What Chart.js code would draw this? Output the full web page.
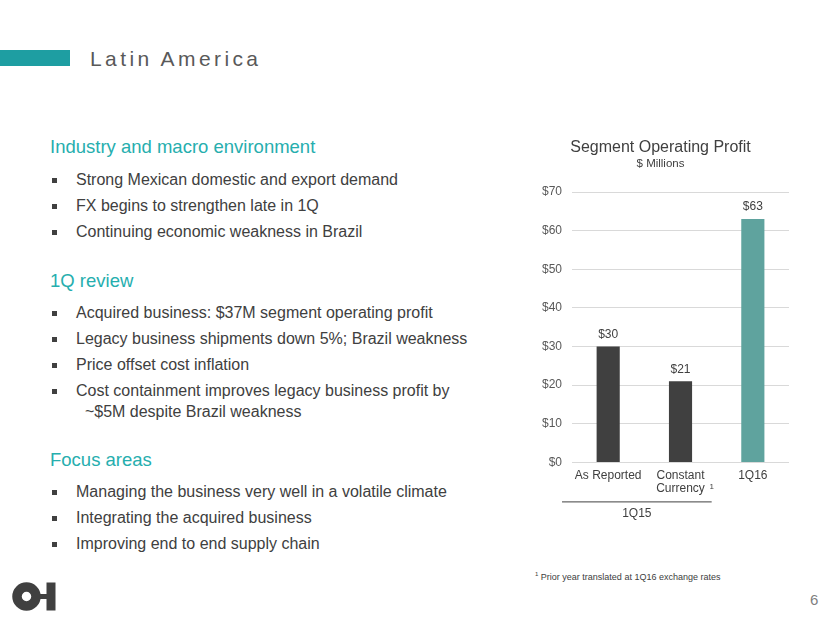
<!DOCTYPE html>
<html>
<head>
<meta charset="utf-8">
<script src="https://cdn.jsdelivr.net/npm/chart.js@4.4.1/dist/chart.umd.min.js"></script>
<style>
  body { margin: 0; background: #fff; font-family: "Liberation Sans", Arial, sans-serif; }
  #slide { position: relative; width: 830px; height: 623px; overflow: hidden; }
  .bar { position: absolute; left: 0; top: 50px; width: 70px; height: 16px; background: #1e9ea2; }
  .title { position: absolute; left: 90px; top: 47px; font-size: 21px; letter-spacing: 3.4px; color: #595959; }
  .head { position: absolute; left: 50px; font-size: 18.5px; color: #26aeae; }
  .item { position: absolute; left: 76px; font-size: 16px; color: #404040; }
  .item:before { content: ""; position: absolute; left: -24px; top: 7px; width: 5px; height: 5px; background: #404040; }
  .item.cont:before { display: none; }
  #chartBox { position: absolute; left: 515px; top: 132px; width: 300px; height: 400px; }
  .foot { position: absolute; left: 535px; top: 571px; font-size: 9px; color: #404040; }
  .page { position: absolute; left: 810px; top: 591px; font-size: 15px; color: #7f7f7f; }
</style>
</head>
<body>
<div id="slide">
  <div class="bar"></div>
  <div class="title">Latin America</div>

  <div class="head" style="top:136px">Industry and macro environment</div>
  <div class="item" style="top:171px">Strong Mexican domestic and export demand</div>
  <div class="item" style="top:197px">FX begins to strengthen late in 1Q</div>
  <div class="item" style="top:223px">Continuing economic weakness in Brazil</div>

  <div class="head" style="top:270px">1Q review</div>
  <div class="item" style="top:304px">Acquired business: $37M segment operating profit</div>
  <div class="item" style="top:330px">Legacy business shipments down 5%; Brazil weakness</div>
  <div class="item" style="top:356px">Price offset cost inflation</div>
  <div class="item" style="top:382px">Cost containment improves legacy business profit by</div>
  <div class="item cont" style="top:403px">&nbsp;&nbsp;~$5M despite Brazil weakness</div>

  <div class="head" style="top:449px">Focus areas</div>
  <div class="item" style="top:483px">Managing the business very well in a volatile climate</div>
  <div class="item" style="top:509px">Integrating the acquired business</div>
  <div class="item" style="top:535px">Improving end to end supply chain</div>

  <div id="chartBox"><canvas id="chart"></canvas></div>

  <div class="foot"><sup style="font-size:6px">1</sup> Prior year translated at 1Q16 exchange rates</div>
  <div class="page">6</div>

  <svg style="position:absolute;left:12px;top:582px" width="46" height="30" viewBox="0 0 46 30">
    <circle cx="14.5" cy="14.5" r="9.5" fill="none" stroke="#404040" stroke-width="9.5"/>
    <rect x="28" y="12" width="7" height="5" fill="#404040"/>
    <rect x="34.5" y="0.5" width="9" height="28" fill="#404040"/>
  </svg>
</div>

<script>
var categories = ['As Reported', ['Constant', 'Currency'], '1Q16'];
var profit = [30, 21, 63];
var barColors = ['#404040', '#404040', '#5fa39e'];
var yTicks = [0, 10, 20, 30, 40, 50, 60, 70];
var groupLabel = '1Q15';
var noteIndex = 1;

var valueLabels = {
  id: 'valueLabels',
  afterDatasetsDraw: function(chart) {
    var ctx = chart.ctx;
    var meta = chart.getDatasetMeta(0);
    ctx.save();
    ctx.font = '12px "Liberation Sans", Arial, sans-serif';
    ctx.fillStyle = '#404040';
    ctx.textAlign = 'center';
    ctx.textBaseline = 'bottom';
    meta.data.forEach(function(bar, i) {
      ctx.fillText('$' + profit[i], bar.x, bar.y - 6);
    });
    ctx.restore();
  }
};

var groupBracket = {
  id: 'groupBracket',
  afterDraw: function(chart) {
    var ctx = chart.ctx;
    var x = chart.scales.x;
    var half = (x.getPixelForValue(1) - x.getPixelForValue(0)) / 2;
    var left = x.getPixelForValue(0) - half - 10;
    var right = x.getPixelForValue(1) + half - 5;
    var y = chart.chartArea.bottom + 39;
    ctx.save();
    ctx.strokeStyle = '#404040';
    ctx.lineWidth = 1;
    ctx.beginPath();
    ctx.moveTo(left, y + 0.5);
    ctx.lineTo(right, y + 0.5);
    ctx.stroke();
    ctx.font = '12px "Liberation Sans", Arial, sans-serif';
    ctx.fillStyle = '#404040';
    ctx.textAlign = 'center';
    ctx.textBaseline = 'top';
    ctx.fillText(groupLabel, (left + right) / 2, y + 6);
    // footnote marker after "Currency"
    ctx.font = '8px "Liberation Sans", Arial, sans-serif';
    ctx.textAlign = 'left';
    ctx.fillText('1', x.getPixelForValue(noteIndex) + 29, chart.chartArea.bottom + 20);
    ctx.restore();
  }
};

new Chart(document.getElementById('chart'), {
  type: 'bar',
  data: {
    labels: categories,
    datasets: [{
      data: profit,
      backgroundColor: barColors,
      categoryPercentage: 1,
      barPercentage: 0.32
    }]
  },
  options: {
    responsive: true,
    maintainAspectRatio: false,
    animation: false,
    layout: { padding: { left: 17, right: 26, top: 0, bottom: 30 } },
    plugins: {
      legend: { display: false },
      tooltip: { enabled: false },
      title: {
        display: true,
        text: 'Segment Operating Profit',
        color: '#404040',
        font: { size: 16, family: '"Liberation Sans", Arial, sans-serif', weight: 'normal' },
        padding: { top: 6, bottom: 0 }
      },
      subtitle: {
        display: true,
        text: '$ Millions',
        color: '#404040',
        font: { size: 11.5, family: '"Liberation Sans", Arial, sans-serif' },
        padding: { top: 0, bottom: 21 }
      }
    },
    scales: {
      y: {
        min: 0,
        max: 70,
        afterBuildTicks: function(axis) {
          axis.ticks = yTicks.map(function(v) { return { value: v }; });
        },
        border: { display: false },
        grid: { color: '#d9d9d9', drawTicks: false },
        ticks: {
          padding: 10,
          color: '#595959',
          font: { size: 12, family: '"Liberation Sans", Arial, sans-serif' },
          callback: function(v) { return '$' + v; }
        }
      },
      x: {
        border: { display: false },
        grid: { display: false, drawTicks: false },
        ticks: {
          padding: 6,
          color: '#404040',
          maxRotation: 0,
          font: { size: 12, family: '"Liberation Sans", Arial, sans-serif', lineHeight: 1.15 }
        }
      }
    }
  },
  plugins: [valueLabels, groupBracket]
});
</script>
</body>
</html>
